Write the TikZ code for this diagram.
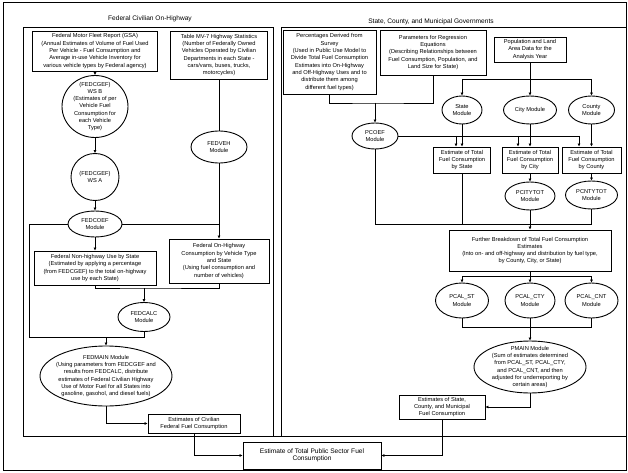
\documentclass[tikz,border=0pt]{standalone}
\usepackage{fontspec}
\setmainfont{Liberation Sans}
\usetikzlibrary{shapes.geometric,arrows.meta}
\newcommand{\smallfont}{\fontsize{5.7}{7.3}\selectfont}
\newcommand{\titlefont}{\fontsize{6.6}{8}\selectfont}
\begin{document}
\begin{tikzpicture}
[x=1pt,y=-1pt,
  lineDecorate/.style={line width=0.9pt},%
  arrowDecorate/.style={line width=0.9pt,-{Latex[length=3pt,width=3pt]}},
  boxDecorate/.style={draw,rectangle,line width=0.9pt,inner sep=0pt,align=center,font=\smallfont},
  moduleDecorate/.style={draw,ellipse,line width=0.9pt,inner sep=-12pt,align=center,font=\smallfont}]
\useasboundingbox (0,0) rectangle (628,473);
%% frames
\draw[lineDecorate] (3,2) rectangle (626,470);
\draw[lineDecorate] (23,27) rectangle (273,436);
\draw[lineDecorate] (281,27) rectangle (626,436);
\draw[lineDecorate] (273,436) -- (281,436);
\node[font=\titlefont] (leftTitle) at (150,19) {Federal Civilian On-Highway};
\node[font=\titlefont] (rightTitle) at (431,22) {State, County, and Municipal Governments};
%% boxes
\foreach \nodename/\x/\y/\w/\h/\txt in {
  fmfr/95/51/125/40/{Federal Motor Fleet Report (GSA)\\(Annual Estimates of Volume of Fuel Used\\Per Vehicle - Fuel Consumption and\\Average in-use Vehicle Inventory for\\various vehicle types by Federal agency)},
  mv7/219/55/97/48/{Table MV-7 Highway Statistics\\(Number of Federally Owned\\Vehicles Operated by Civilian\\Departments in each State -\\cars/vans, buses, trucks,\\motorcycles)},
  nonhwy/95/268/122/34/{Federal Non-highway Use by State\\(Estimated by applying a percentage\\(from FEDCGEF) to the total on-highway\\use by each State)},
  onhwy/219/261/100/44/{Federal On-Highway\\Consumption by Vehicle Type\\and State\\(Using fuel consumption and\\number of vehicles)},
  fedest/194/423.5/92/19/{Estimates of Civilian\\Federal Fuel Consumption},
  total/312/455.5/138/27/{\titlefont Estimate of Total Public Sector Fuel\\\titlefont Consumption},
  pct/329.5/62/93/64/{Percentages Derived from\\Survey\\(Used in Public Use Model to\\Divide Total Fuel Consumption\\Estimates into On-Highway\\and Off-Highway Uses and to\\distribute them among\\different fuel types)},
  reg/433/52.5/106/45/{Parameters for Regression\\Equations\\(Describing Relationships between\\Fuel Consumption, Population, and\\Land Size for State)},
  pop/530/49.5/72/25/{Population and Land\\Area Data for the\\Analysis Year},
  stest/462/160/57/26/{Estimate of Total\\Fuel Consumption\\by State},
  ctyest/530/160/56/26/{Estimate of Total\\Fuel Consumption\\by City},
  cntest/591.5/160/59/26/{Estimate of Total\\Fuel Consumption\\by County},
  further/530/250.5/162/41/{Further Breakdown of Total Fuel Consumption\\Estimates\\(Into on- and off-highway and distribution by fuel type,\\by County, City, or State)},
  sest/442/407/86/24/{Estimates of State,\\County, and Municipal\\Fuel Consumption}}
{
  \node (\nodename) at (\x,\y) [boxDecorate,minimum width=\w pt,minimum height=\h pt] {\txt};
}
%% modules
\foreach \nodename/\x/\y/\w/\h/\txt in {
  wsb/95/106.5/66/62/{(FEDCGEF)\\WS B\\(Estimates of per\\Vehicle Fuel\\Consumption for\\each Vehicle\\Type)},
  wsa/95/177/48/47/{(FEDCGEF)\\WS A},
  fedcoef/95/224/54/26/{FEDCOEF\\Module},
  fedveh/219/147/56/32/{FEDVEH\\Module},
  fedcalc/144/317/52/29/{FEDCALC\\Module},
  fedmain/106/376/132/60/{FEDMAIN Module\\(Using parameters from FEDCGEF and\\results from FEDCALC, distribute\\estimates of Federal Civilian Highway\\Use of Motor Fuel for all States into\\gasoline, gasohol, and diesel fuels)},
  stmod/462/110/40/28/{State\\Module},
  citymod/530/110/53/28/{City Module},
  cntmod/591.5/110/46/28/{County\\Module},
  pcoef/375/136/46/26/{PCOEF\\Module},
  pcity/530/196/50/28/{PCITYTOT\\Module},
  pcnty/591.5/195/52/28/{PCNTYTOT\\Module},
  pcalst/462/300.5/53/35/{PCAL\_ST\\Module},
  pcalcty/530/300.5/50/35/{PCAL\_CTY\\Module},
  pcalcnt/591.5/300.5/53/35/{PCAL\_CNT\\Module},
  pmain/530/367/112/52/{PMAIN Module\\(Sum of estimates determined\\from PCAL\_ST, PCAL\_CTY,\\and PCAL\_CNT, and then\\adjusted for underreporting by\\certain areas)}}
{
  \node (\nodename) at (\x,\y) [moduleDecorate,minimum width=\w pt,minimum height=\h pt] {\txt};
}
%% straight connectors
\path
\foreach \startnode/\endnode in {
  fmfr/wsb, wsb/wsa, wsa/fedcoef, fedcoef/nonhwy, fedveh/onhwy,
  stmod/stest, citymod/ctyest, cntmod/cntest, ctyest/pcity, cntest/pcnty,
  pcity/further, pop/citymod, pcalcty/pmain}
{
  (\startnode) edge[arrowDecorate] (\endnode)
};
\draw[lineDecorate] (mv7) -- (fedveh);
%% left panel joins
\coordinate (lowJoin) at (29,337);
\coordinate (calcJoin) at (144,288);
\draw[lineDecorate] (fedcoef.west) -| (lowJoin) -| (fedcalc.south);
\draw[arrowDecorate] (fedmain.north |- lowJoin) -- (fedmain.north);
\draw[lineDecorate] (fedcoef.east) -- (fedcoef.east -| fedveh.south);
\draw[lineDecorate] (nonhwy.south) |- (calcJoin) -| (onhwy.south);
\draw[arrowDecorate] (calcJoin) -- (fedcalc.north);
\draw[arrowDecorate] (fedmain.south) |- (fedest.west);
\draw[arrowDecorate] (fedest.south) |- (total.west);
%% right panel joins
\coordinate (regJoin) at (375,103);
\coordinate (popJoin) at (530,79);
\coordinate (furtherJoin) at (530,224);
\coordinate (pcalJoin) at (530,276);
\coordinate (pmainJoin) at (530,327);
\draw[lineDecorate] (pct.south) |- (regJoin) -| (reg.south);
\draw[arrowDecorate] (regJoin) -- (pcoef.north);
\draw[lineDecorate] (popJoin -| stmod.north) -- (popJoin -| cntmod.north);
\foreach \m in {stmod,cntmod}
  \draw[arrowDecorate] (popJoin -| \m.north) -- (\m.north);
\draw[lineDecorate] (pcoef.east) -- ([xshift=-12.5pt]cntest.north |- pcoef.east);
\foreach \e/\d in {stest/-6, ctyest/-12, cntest/-12.5}
  \draw[arrowDecorate] ([xshift=\d pt]\e.north |- pcoef.east) -- ([xshift=\d pt]\e.north);
\draw[lineDecorate] (pcoef.south) |- (furtherJoin -| pcnty.south) -- (pcnty.south);
\draw[lineDecorate] (stest.south) -- (stest.south |- furtherJoin);
\draw[lineDecorate] (further.south) -- (pcalJoin);
\draw[lineDecorate] (pcalJoin -| pcalst.north) -- (pcalJoin -| pcalcnt.north);
\foreach \m in {pcalst,pcalcty,pcalcnt}
  \draw[arrowDecorate] (pcalJoin -| \m.north) -- (\m.north);
\draw[lineDecorate] (pcalst.south) |- (pmainJoin -| pcalcnt.south) -- (pcalcnt.south);
\draw[arrowDecorate] (pmain.south) |- (sest.east);
\draw[arrowDecorate] (sest.south) |- (total.east);
\end{tikzpicture}
\end{document}
